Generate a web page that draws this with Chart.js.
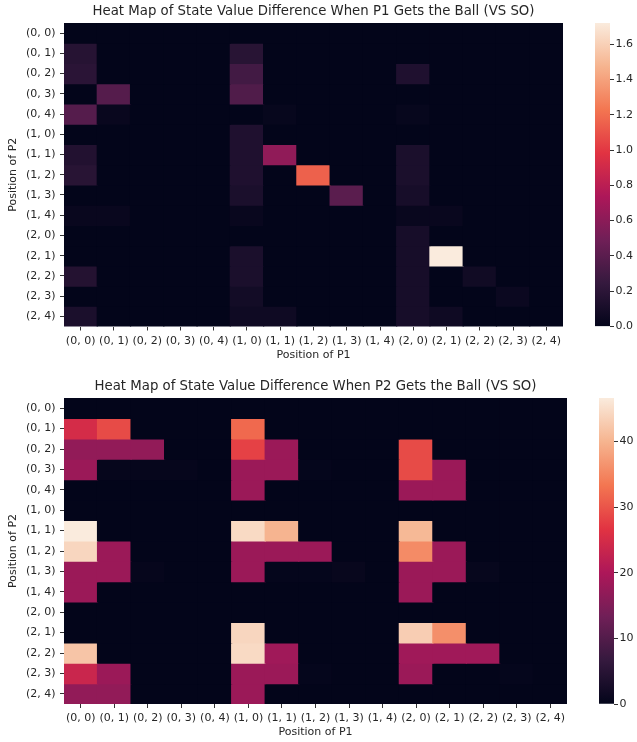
<!DOCTYPE html>
<html>
<head>
<meta charset="utf-8">
<script src="https://cdn.jsdelivr.net/npm/chart.js@4"></script>
<style>
html, body { margin: 0; padding: 0; background: #fff; width: 637px; height: 742px; overflow: hidden; }
canvas { position: absolute; }
</style>
</head>
<body>
<canvas id="heat1" width="627" height="371" style="left:0;top:0;"></canvas>
<canvas id="cbar1" width="57" height="371" style="left:580px;top:0;"></canvas>
<canvas id="heat2" width="631" height="371" style="left:0;top:371px;"></canvas>
<canvas id="cbar2" width="53" height="371" style="left:584px;top:371px;"></canvas>
<script>
// ---- categories ----
const p1Positions = ['(0, 0)', '(0, 1)', '(0, 2)', '(0, 3)', '(0, 4)', '(1, 0)', '(1, 1)', '(1, 2)', '(1, 3)', '(1, 4)', '(2, 0)', '(2, 1)', '(2, 2)', '(2, 3)', '(2, 4)'];
const p2Positions = ['(0, 0)', '(0, 1)', '(0, 2)', '(0, 3)', '(0, 4)', '(1, 0)', '(1, 1)', '(1, 2)', '(1, 3)', '(1, 4)', '(2, 0)', '(2, 1)', '(2, 2)', '(2, 3)', '(2, 4)'];

// ---- values: rows = position of P2, columns = position of P1 ----
const diffP1Ball = [
  [0, 0, 0, 0, 0, 0, 0, 0, 0, 0, 0, 0, 0, 0, 0],
  [0.17, 0, 0, 0, 0, 0.18, 0, 0, 0, 0, 0, 0, 0, 0, 0],
  [0.19, 0, 0, 0, 0, 0.30, 0, 0, 0, 0, 0.14, 0, 0, 0, 0],
  [0, 0.38, 0, 0, 0, 0.36, 0, 0, 0, 0, 0, 0, 0, 0, 0],
  [0.38, 0.03, 0, 0, 0, 0, 0.02, 0, 0, 0, 0.02, 0, 0, 0, 0],
  [0, 0, 0, 0, 0, 0.14, 0, 0, 0, 0, 0, 0, 0, 0, 0],
  [0.15, 0, 0, 0, 0, 0.14, 0.62, 0, 0, 0, 0.12, 0, 0, 0, 0],
  [0.18, 0, 0, 0, 0, 0.14, 0, 1.15, 0, 0, 0.12, 0, 0, 0, 0],
  [0, 0, 0, 0, 0, 0.12, 0, 0, 0.40, 0, 0.10, 0, 0, 0, 0],
  [0.03, 0.03, 0, 0, 0, 0.03, 0, 0, 0, 0, 0.03, 0.03, 0, 0, 0],
  [0, 0, 0, 0, 0, 0, 0, 0, 0, 0, 0.10, 0, 0, 0, 0],
  [0, 0, 0, 0, 0, 0.12, 0, 0, 0, 0, 0.10, 1.72, 0, 0, 0],
  [0.16, 0, 0, 0, 0, 0.12, 0, 0, 0, 0, 0.10, 0, 0.07, 0, 0],
  [0, 0, 0, 0, 0, 0.08, 0, 0, 0, 0, 0.10, 0, 0, 0.04, 0],
  [0.12, 0, 0, 0, 0, 0.06, 0.06, 0, 0, 0, 0.10, 0.06, 0, 0, 0]
];
const diffP2Ball = [
  [0, 0, 0, 0, 0, 0, 0, 0, 0, 0, 0, 0, 0, 0, 0],
  [25, 29, 0, 0, 0, 32, 0, 0, 0, 0, 0, 0, 0, 0, 0],
  [17, 17, 17, 0, 0, 28, 18, 0, 0, 0, 29, 0, 0, 0, 0],
  [18, 0.4, 0.4, 0.4, 0, 18, 18, 0.3, 0, 0, 29, 18, 0, 0, 0],
  [0, 0, 0, 0, 0, 18, 0, 0, 0, 0, 18, 18, 0, 0, 0],
  [0, 0, 0, 0, 0, 0, 0, 0, 0, 0, 0, 0, 0, 0, 0],
  [46.6, 0, 0, 0, 0, 44.5, 40, 0, 0, 0, 40.5, 0, 0, 0, 0],
  [44, 18, 0, 0, 0, 18, 18, 18, 0, 0, 35.5, 18, 0, 0, 0],
  [18, 18, 0.4, 0, 0, 18, 0.3, 0.3, 0.6, 0, 18, 18, 0.5, 0, 0],
  [18, 0, 0, 0, 0, 0, 0, 0, 0, 0, 18, 0, 0, 0, 0],
  [0, 0, 0, 0, 0, 0, 0, 0, 0, 0, 0, 0, 0, 0, 0],
  [0, 0, 0, 0, 0, 44, 0, 0, 0, 0, 43, 36, 0, 0, 0],
  [42, 0, 0, 0, 0, 44.5, 18.5, 0, 0, 0, 18.5, 18.5, 18.5, 0, 0],
  [23.5, 18, 0, 0, 0, 18, 18, 0.3, 0, 0, 18, 0, 0, 0.3, 0],
  [17, 17, 0, 0, 0, 18, 0, 0, 0, 0, 0, 0, 0, 0, 0]
];

// ---- colour bar tick labels ----
const cbarTicksP1Ball = [0.0, 0.2, 0.4, 0.6, 0.8, 1.0, 1.2, 1.4, 1.6];
const cbarTicksP2Ball = [0, 10, 20, 30, 40];

const titleP1Ball = 'Heat Map of State Value Difference When P1 Gets the Ball (VS SO)';
const titleP2Ball = 'Heat Map of State Value Difference When P2 Gets the Ball (VS SO)';

// ---- style ----
const FONT = "'DejaVu Sans', sans-serif";
const TEXT = '#262626';
const TICK = '#333333';
const TICK_SIZE = 11;
const TITLE_SIZE = 13.3;
const rocketStops = ['#03051a', '#35193e', '#701f57', '#ad1759', '#e13342', '#f37651', '#f6b48f', '#faebdd'];

function hexToRgb(h) {
  return [parseInt(h.slice(1, 3), 16), parseInt(h.slice(3, 5), 16), parseInt(h.slice(5, 7), 16)];
}
function rocketColor(t) {
  t = Math.min(1, Math.max(0, t));
  const n = rocketStops.length - 1;
  const s = t * n;
  const i = Math.min(n - 1, Math.floor(s));
  const f = s - i;
  const a = hexToRgb(rocketStops[i]), b = hexToRgb(rocketStops[i + 1]);
  const c = a.map((v, k) => Math.round(v + (b[k] - v) * f));
  return 'rgb(' + c.join(',') + ')';
}
function matrixMax(m) {
  return Math.max(...m.map(r => Math.max(...r)));
}

// Title centred over the plotting area (as matplotlib does)
const areaTitle = {
  id: 'areaTitle',
  afterDraw(chart, args, opts) {
    const { ctx, chartArea } = chart;
    ctx.save();
    ctx.font = TITLE_SIZE + 'px ' + FONT;
    ctx.fillStyle = TEXT;
    ctx.textAlign = 'center';
    ctx.textBaseline = 'middle';
    ctx.fillText(opts.text, (chartArea.left + chartArea.right) / 2, opts.y);
    ctx.restore();
  }
};

function heatmap(id, matrix, title, cfg) {
  const vmax = matrixMax(matrix);
  return new Chart(document.getElementById(id), {
    type: 'bar',
    plugins: [areaTitle],
    data: {
      labels: p1Positions,
      datasets: p2Positions.map((lab, i) => ({
        label: lab,
        data: p1Positions.map(() => 1),
        backgroundColor: matrix[i].map(v => rocketColor(v / vmax)),
        borderWidth: 0,
        inflateAmount: 0.6,
        barPercentage: 1,
        categoryPercentage: 1
      }))
    },
    options: {
      responsive: false,
      animation: false,
      layout: { padding: { left: 0, right: cfg.right, top: cfg.top, bottom: cfg.bottom } },
      plugins: {
        legend: { display: false },
        tooltip: { enabled: false },
        title: { display: false },
        areaTitle: { text: title, y: cfg.titleY }
      },
      scales: {
        x: {
          stacked: true,
          grid: { display: true, drawOnChartArea: false, drawTicks: true, tickLength: 4, tickColor: TICK, tickWidth: 1, offset: false },
          border: { display: false },
          ticks: { color: TEXT, font: { family: FONT, size: TICK_SIZE }, padding: 4, maxRotation: 0, autoSkip: false },
          title: { display: true, text: 'Position of P1', color: TEXT, font: { family: FONT, size: TICK_SIZE }, padding: 0 },
          afterFit(s) { s.height = 35; }
        },
        y: {
          type: 'linear',
          stacked: true,
          min: 0,
          max: p2Positions.length,
          reverse: true,
          afterBuildTicks(s) { s.ticks = p2Positions.map((_, i) => ({ value: i + 0.5 })); },
          grid: { display: true, drawOnChartArea: false, drawTicks: true, tickLength: 4, tickColor: TICK, tickWidth: 1 },
          border: { display: false },
          ticks: { color: TEXT, font: { family: FONT, size: TICK_SIZE }, padding: 4.5, callback: (v, i) => p2Positions[i] },
          title: { display: true, text: 'Position of P2', color: TEXT, font: { family: FONT, size: TICK_SIZE }, padding: { top: 6.5, bottom: 0 } },
          afterFit(s) { s.width = 64; }
        }
      }
    }
  });
}

function colorbar(id, matrix, tickVals, fmt, cfg) {
  const vmax = matrixMax(matrix);
  return new Chart(document.getElementById(id), {
    type: 'bar',
    data: {
      labels: [''],
      datasets: [{
        data: [[0, vmax]],
        backgroundColor: (ctx) => {
          const ca = ctx.chart.chartArea;
          if (!ca) return 'transparent';
          const g = ctx.chart.ctx.createLinearGradient(0, ca.bottom, 0, ca.top);
          rocketStops.forEach((c, i) => g.addColorStop(i / (rocketStops.length - 1), c));
          return g;
        },
        borderWidth: 0,
        barPercentage: 1,
        categoryPercentage: 1
      }]
    },
    options: {
      responsive: false,
      animation: false,
      layout: { padding: { left: 15, right: 0, top: cfg.top, bottom: cfg.bottom } },
      plugins: { legend: { display: false }, tooltip: { enabled: false } },
      scales: {
        x: { display: false },
        y: {
          position: 'right',
          min: 0,
          max: vmax,
          afterBuildTicks(s) { s.ticks = tickVals.map(v => ({ value: v })); },
          grid: { display: true, drawOnChartArea: false, drawTicks: true, tickLength: 4, tickColor: TICK, tickWidth: 1 },
          border: { display: false },
          ticks: { color: TEXT, font: { family: FONT, size: TICK_SIZE }, padding: 1.5, callback: (v) => fmt(v) },
          afterFit(s) { s.width = cfg.axisW; }
        }
      }
    }
  });
}

heatmap('heat1', diffP1Ball, titleP1Ball, { right: 64, top: 23, bottom: 9.5, titleY: 12 });
colorbar('cbar1', diffP1Ball, cbarTicksP1Ball, v => v.toFixed(1), { top: 23, bottom: 44.5, axisW: 27 });
heatmap('heat2', diffP2Ball, titleP2Ball, { right: 64, top: 27, bottom: 3, titleY: 15.5 });
colorbar('cbar2', diffP2Ball, cbarTicksP2Ball, v => String(Math.round(v)), { top: 27, bottom: 38, axisW: 23 });
</script>
</body>
</html>
